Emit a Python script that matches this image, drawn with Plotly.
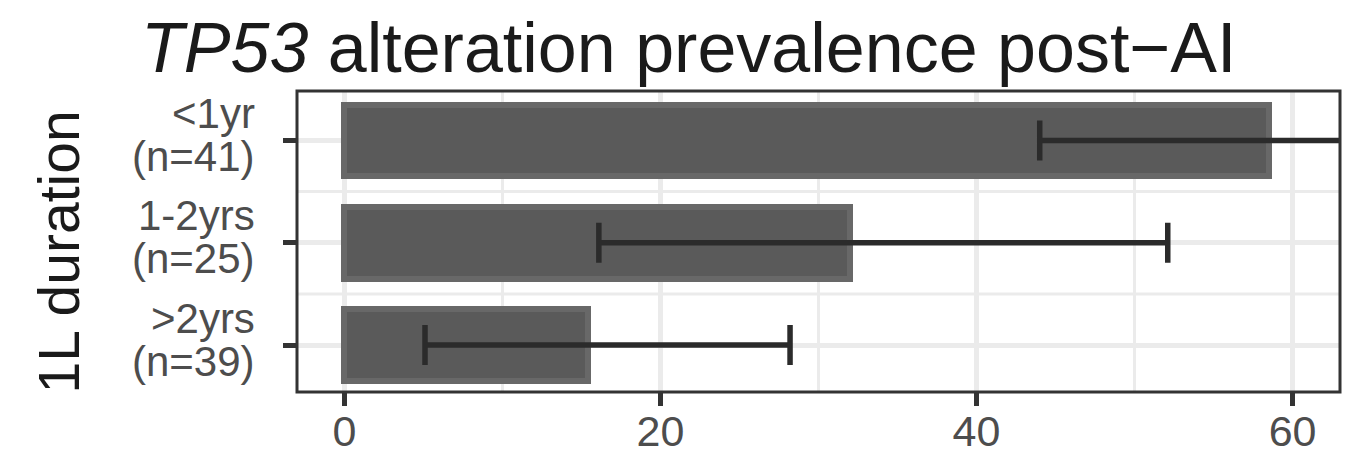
import plotly.graph_objects as go

# Prevalence of TP53 alterations by first-line treatment duration
categories = ["<1yr", "1-2yrs", ">2yrs"]
n_patients = [41, 25, 39]
prevalence = [58.5, 32.0, 15.4]
ci_low = [44.0, 16.1, 5.1]
ci_high = [72.2, 52.1, 28.2]

FONT = "Liberation Sans, Arial, Helvetica, sans-serif"
W, H = 1358, 454
M_L, M_R, M_T, M_B = 297, 18, 91, 62
plot_w = W - M_L - M_R
plot_h = H - M_T - M_B

err_plus = [hi - p for hi, p in zip(ci_high, prevalence)]
err_minus = [p - lo for lo, p in zip(ci_low, prevalence)]

fig = go.Figure()
fig.add_trace(go.Bar(
    x=prevalence,
    y=categories,
    orientation="h",
    width=0.7,
    marker=dict(color="#5a5a5a", line=dict(color="#686868", width=6)),
    error_x=dict(
        type="data",
        symmetric=False,
        array=err_plus,
        arrayminus=err_minus,
        color="#2b2b2b",
        thickness=5.5,
        width=20,
    ),
    showlegend=False,
    hoverinfo="skip",
))

# Minor horizontal gridlines between categories
for yv in [0.5, 1.5]:
    fig.add_shape(type="line", xref="paper", yref="y", x0=0, x1=1, y0=yv, y1=yv,
                  line=dict(color="#ebebeb", width=3), layer="below")

# Panel border
fig.add_shape(type="rect", xref="paper", yref="paper", x0=0, x1=1, y0=0, y1=1,
              line=dict(color="#333333", width=3), layer="above")

# Two-line category labels (name + sample size)
label_x = (257 - M_L) / plot_w
for cat, n in zip(categories, n_patients):
    fig.add_annotation(text=cat, x=label_x, xref="paper", y=cat, yref="y",
                       xanchor="right", yanchor="middle", yshift=27, showarrow=False,
                       font=dict(family=FONT, size=42, color="#4d4d4d"))
    fig.add_annotation(text=f"(n={n})", x=label_x, xref="paper", y=cat, yref="y",
                       xanchor="right", yanchor="middle", yshift=-16, showarrow=False,
                       font=dict(family=FONT, size=42, color="#4d4d4d"))

# Y-axis title
fig.add_annotation(text="1L duration", x=(58 - M_L) / plot_w, xref="paper",
                   y=(392 - 252.5) / plot_h, yref="paper",
                   textangle=-90, xanchor="center", yanchor="middle", showarrow=False,
                   font=dict(family=FONT, size=57, color="#1a1a1a"))

fig.update_layout(
    width=W, height=H,
    margin=dict(l=M_L, r=M_R, t=M_T, b=M_B, pad=0, autoexpand=False),
    paper_bgcolor="white",
    plot_bgcolor="white",
    bargap=0,
    title=dict(
        text="<i>TP53</i> alteration prevalence post\u2212AI",
        font=dict(family=FONT, size=70, color="#1a1a1a"),
        x=141 / W, xanchor="left", xref="container",
        y=1 - 47 / H, yanchor="middle", yref="container",
        automargin=False,
    ),
    xaxis=dict(
        automargin=False,
        range=[-3, 63],
        tickvals=[0, 20, 40, 60],
        showgrid=True, gridcolor="#ebebeb", gridwidth=5,
        minor=dict(dtick=10, tick0=0, showgrid=True, gridcolor="#ebebeb", gridwidth=3),
        zeroline=False, showline=False,
        ticks="outside", ticklen=13, tickwidth=5, tickcolor="#333333",
        ticklabelstandoff=-12,
        tickfont=dict(family=FONT, size=43, color="#4d4d4d"),
    ),
    yaxis=dict(
        automargin=False,
        type="category",
        categoryorder="array", categoryarray=categories,
        range=[2.459, -0.483],
        showgrid=True, gridcolor="#ebebeb", gridwidth=5,
        zeroline=False, showline=False,
        ticks="outside", ticklen=13, tickwidth=5, tickcolor="#333333",
        showticklabels=False,
    ),
)

fig.write_html("out.html")
